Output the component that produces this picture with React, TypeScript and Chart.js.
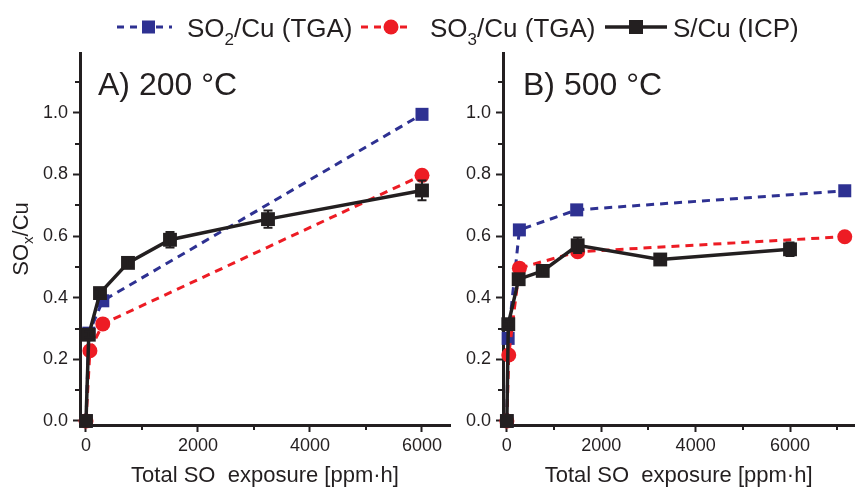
import React, { useEffect, useRef } from 'react';
import { Chart, registerables } from 'chart.js';

Chart.register(...registerables);

const BLUE = '#2E3192';
const RED = '#ED1C24';
const BLACK = '#231F20';
const FONT = '"Liberation Sans", Arial, Helvetica, sans-serif';

// ---- Panel A) 200 °C ----
const aSO2x = [0, 50, 300, 6000];
const aSO2y = [0, 0.285, 0.39, 0.995];
const aSO3x = [0, 70, 300, 6000];
const aSO3y = [0, 0.228, 0.315, 0.797];
const aICPx = [0, 50, 250, 750, 1500, 3250, 6000];
const aICPy = [0.0, 0.28, 0.415, 0.513, 0.588, 0.655, 0.748];
const aICPerr = [0, 0.01, 0.012, 0.015, 0.025, 0.028, 0.032];

// ---- Panel B) 500 °C ----
const bSO2x = [0, 27, 265, 1480, 7160];
const bSO2y = [0, 0.268, 0.62, 0.685, 0.747];
const bSO3x = [0, 40, 265, 1500, 7160];
const bSO3y = [0, 0.214, 0.496, 0.549, 0.598];
const bICPx = [0, 30, 250, 760, 1500, 3250, 6000];
const bICPy = [0.0, 0.314, 0.46, 0.487, 0.57, 0.524, 0.557];
const bICPerr = [0, 0.01, 0.012, 0.012, 0.025, 0.015, 0.022];

// ---- Ticks ----
const xMajorTicks = [0, 2000, 4000, 6000];
const xMinorTicksA = [1000, 3000, 5000];
const xMinorTicksB = [1000, 3000, 5000, 7000];
const yMajorTicks = [0, 0.2, 0.4, 0.6, 0.8, 1.0];
const yMinorTicks = [0.1, 0.3, 0.5, 0.7, 0.9, 1.1];

const legendLabels = ['SO2/Cu (TGA)', 'SO3/Cu (TGA)', 'S/Cu (ICP)'];
const xTitle = 'Total SO  exposure [ppm·h]';

type Panel = {
  so2x: number[]; so2y: number[];
  so3x: number[]; so3y: number[];
  icpx: number[]; icpy: number[]; icpErr: number[];
  xMin: number; xMax: number; xMinor: number[];
  yAxisWidth: number; padRight: number;
  title: string; titleDx: number; yTitle: boolean;
  width: number; left: number;
};

const pts = (xs: number[], ys: number[]) => xs.map((x, i) => ({ x, y: ys[i] }));

function makeChart(canvas: HTMLCanvasElement, p: Panel) {
  const panelPlugin = {
    id: 'panelExtras',
    afterDatasetsDraw(chart: any) {
      const { ctx } = chart;
      const xs = chart.scales.x;
      const ys = chart.scales.y;
      ctx.save();
      ctx.strokeStyle = BLACK;
      ctx.lineWidth = 2;
      p.icpx.forEach((xv, i) => {
        const e = p.icpErr[i];
        if (!e) return;
        const px = xs.getPixelForValue(xv);
        const y1 = ys.getPixelForValue(p.icpy[i] + e);
        const y2 = ys.getPixelForValue(p.icpy[i] - e);
        ctx.beginPath();
        ctx.moveTo(px, y1); ctx.lineTo(px, y2);
        ctx.moveTo(px - 4.5, y1); ctx.lineTo(px + 4.5, y1);
        ctx.moveTo(px - 4.5, y2); ctx.lineTo(px + 4.5, y2);
        ctx.stroke();
      });
      ctx.restore();
    },
    afterDraw(chart: any) {
      const { ctx, chartArea } = chart;
      const xs = chart.scales.x;
      const ys = chart.scales.y;
      ctx.save();
      ctx.strokeStyle = BLACK;
      ctx.lineWidth = 2;
      p.xMinor.forEach((v) => {
        const px = Math.round(xs.getPixelForValue(v));
        ctx.beginPath();
        ctx.moveTo(px, chartArea.bottom);
        ctx.lineTo(px, chartArea.bottom + 5);
        ctx.stroke();
      });
      yMinorTicks.forEach((v) => {
        const py = Math.round(ys.getPixelForValue(v));
        ctx.beginPath();
        ctx.moveTo(chartArea.left, py);
        ctx.lineTo(chartArea.left - 5, py);
        ctx.stroke();
      });
      ctx.fillStyle = BLACK;
      ctx.font = `32px ${FONT}`;
      ctx.textAlign = 'left';
      ctx.textBaseline = 'alphabetic';
      ctx.fillText(p.title, chartArea.left + p.titleDx, 95);
      if (p.yTitle) {
        const cy = (chartArea.top + chartArea.bottom) / 2;
        ctx.translate(28, cy);
        ctx.rotate(-Math.PI / 2);
        const big = `22px ${FONT}`;
        const small = `15px ${FONT}`;
        ctx.font = big;
        const w1 = ctx.measureText('SO').width;
        const w3 = ctx.measureText('/Cu').width;
        ctx.font = small;
        const w2 = ctx.measureText('x').width;
        let x0 = -(w1 + w2 + w3) / 2;
        ctx.font = big;
        ctx.fillText('SO', x0, 0);
        x0 += w1;
        ctx.font = small;
        ctx.fillText('x', x0, 5);
        x0 += w2;
        ctx.font = big;
        ctx.fillText('/Cu', x0, 0);
      }
      ctx.restore();
    },
  };

  const tickFont = { family: FONT, size: 18 };

  return new Chart(canvas, {
    type: 'line',
    data: {
      datasets: [
        {
          label: legendLabels[0],
          data: pts(p.so2x, p.so2y),
          borderColor: BLUE,
          backgroundColor: BLUE,
          borderWidth: 3,
          borderDash: [8, 6],
          pointStyle: 'rect',
          pointRadius: 9.2,
          pointBorderWidth: 0,
          order: 3,
          clip: false,
        } as any,
        {
          label: legendLabels[1],
          data: pts(p.so3x, p.so3y),
          borderColor: RED,
          backgroundColor: RED,
          borderWidth: 3,
          borderDash: [8, 6],
          pointStyle: 'circle',
          pointRadius: 7.5,
          pointBorderWidth: 0,
          order: 2,
          clip: false,
        } as any,
        {
          label: legendLabels[2],
          data: pts(p.icpx, p.icpy),
          borderColor: BLACK,
          backgroundColor: BLACK,
          borderWidth: 3.5,
          pointStyle: 'rect',
          pointRadius: 9.8,
          pointBorderWidth: 0,
          order: 1,
          clip: false,
        } as any,
      ],
    },
    options: {
      responsive: false,
      animation: false,
      events: [],
      layout: { padding: { top: 53, right: p.padRight, left: 0, bottom: 0 } },
      plugins: { legend: { display: false }, tooltip: { enabled: false } },
      elements: { line: { tension: 0 } },
      scales: {
        x: {
          type: 'linear',
          min: p.xMin,
          max: p.xMax,
          afterBuildTicks: (scale: any) => {
            scale.ticks = xMajorTicks.map((v) => ({ value: v }));
          },
          afterFit: (scale: any) => {
            scale.height = 64;
          },
          ticks: {
            callback: (v: any) => String(v),
            font: tickFont,
            color: BLACK,
            padding: 3,
            maxRotation: 0,
            autoSkip: false,
          },
          grid: {
            display: true,
            drawOnChartArea: false,
            drawTicks: true,
            tickLength: 7,
            tickWidth: 2,
            tickColor: BLACK,
          },
          border: { display: true, color: BLACK, width: 3 },
          title: {
            display: true,
            text: xTitle,
            font: { family: FONT, size: 22 },
            color: BLACK,
            padding: { top: 0, bottom: 0 },
          },
        },
        y: {
          type: 'linear',
          min: -0.013,
          max: 1.194,
          afterBuildTicks: (scale: any) => {
            scale.ticks = yMajorTicks.map((v) => ({ value: v }));
          },
          afterFit: (scale: any) => {
            scale.width = p.yAxisWidth;
          },
          ticks: {
            callback: (v: any) => Number(v).toFixed(1),
            font: tickFont,
            color: BLACK,
            padding: 5,
          },
          grid: {
            display: true,
            drawOnChartArea: false,
            drawTicks: true,
            tickLength: 7,
            tickWidth: 2,
            tickColor: BLACK,
          },
          border: { display: true, color: BLACK, width: 3 },
        },
      },
    } as any,
    plugins: [panelPlugin],
  });
}

const panelA: Panel = {
  so2x: aSO2x, so2y: aSO2y, so3x: aSO3x, so3y: aSO3y,
  icpx: aICPx, icpy: aICPy, icpErr: aICPerr,
  xMin: -107, xMax: 6500, xMinor: xMinorTicksA,
  yAxisWidth: 80, padRight: 10,
  title: 'A) 200 °C', titleDx: 18, yTitle: true,
  width: 460, left: 0,
};

const panelB: Panel = {
  so2x: bSO2x, so2y: bSO2y, so3x: bSO3x, so3y: bSO3y,
  icpx: bICPx, icpy: bICPy, icpErr: bICPerr,
  xMin: -82, xMax: 7360, xMinor: xMinorTicksB,
  yAxisWidth: 43, padRight: 0,
  title: 'B) 500 °C', titleDx: 20, yTitle: false,
  width: 404, left: 460,
};

function PanelChart({ p }: { p: Panel }) {
  const ref = useRef<HTMLCanvasElement | null>(null);
  useEffect(() => {
    if (!ref.current) return;
    const c = makeChart(ref.current, p);
    return () => c.destroy();
  }, [p]);
  return (
    <canvas
      ref={ref}
      width={p.width}
      height={489}
      style={{ position: 'absolute', left: p.left, top: 0, width: p.width, height: 489 }}
    />
  );
}

function LegendText({ left, main, sub, rest }: { left: number; main: string; sub?: string; rest: string }) {
  return (
    <span
      style={{
        position: 'absolute',
        left,
        top: 13,
        lineHeight: '30px',
        fontSize: 26,
        fontFamily: FONT,
        color: BLACK,
        whiteSpace: 'nowrap',
      }}
    >
      {main}
      {sub ? (
        <span style={{ fontSize: 17, position: 'relative', top: 8 }}>{sub}</span>
      ) : null}
      {rest}
    </span>
  );
}

export default function App() {
  return (
    <div style={{ position: 'absolute', left: 0, top: 0, width: 864, height: 489, background: '#fff', overflow: 'hidden' }}>
      <PanelChart p={panelA} />
      <PanelChart p={panelB} />
      <svg width={864} height={50} style={{ position: 'absolute', left: 0, top: 0 }}>
        <line x1={117} x2={172} y1={27} y2={27} stroke={BLUE} strokeWidth={3} strokeDasharray="7 6" />
        <rect x={142} y={20.5} width={13} height={13} fill={BLUE} />
        <line x1={361} x2={413} y1={27} y2={27} stroke={RED} strokeWidth={3} strokeDasharray="7 6" />
        <circle cx={391} cy={27} r={7.5} fill={RED} />
        <line x1={605} x2={667} y1={27} y2={27} stroke={BLACK} strokeWidth={3.5} />
        <rect x={629} y={20} width={14} height={14} fill={BLACK} />
      </svg>
      <LegendText left={187} main="SO" sub="2" rest="/Cu (TGA)" />
      <LegendText left={430} main="SO" sub="3" rest="/Cu (TGA)" />
      <LegendText left={673} main="S/Cu (ICP)" rest="" />
    </div>
  );
}
